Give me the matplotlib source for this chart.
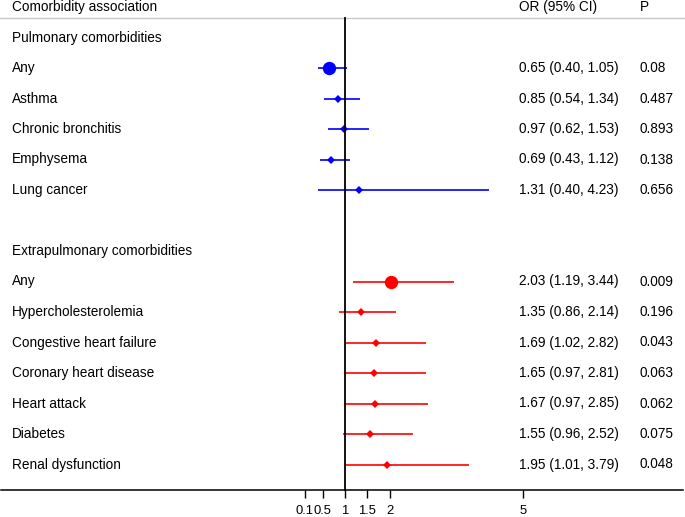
import matplotlib
matplotlib.use("Agg")
import matplotlib.pyplot as plt
import matplotlib.transforms as mtransforms

plt.rcParams['font.family'] = ['Liberation Sans', 'DejaVu Sans']

# data
pulm_labels = ["Any", "Asthma", "Chronic bronchitis", "Emphysema", "Lung cancer"]
pulm_or = [0.65, 0.85, 0.97, 0.69, 1.31]
pulm_lo = [0.40, 0.54, 0.62, 0.43, 0.40]
pulm_hi = [1.05, 1.34, 1.53, 1.12, 4.23]
pulm_p = ["0.08", "0.487", "0.893", "0.138", "0.656"]

extra_labels = ["Any", "Hypercholesterolemia", "Congestive heart failure",
                "Coronary heart disease", "Heart attack", "Diabetes",
                "Renal dysfunction"]
extra_or = [2.03, 1.35, 1.69, 1.65, 1.67, 1.55, 1.95]
extra_lo = [1.19, 0.86, 1.02, 0.97, 0.97, 0.96, 1.01]
extra_hi = [3.44, 2.14, 2.82, 2.81, 2.85, 2.52, 3.79]
extra_p = ["0.009", "0.196", "0.043", "0.063", "0.062", "0.075", "0.048"]

tick_vals = [0.1, 0.5, 1, 1.5, 2, 5]
tick_labels = ["0.1", "0.5", "1", "1.5", "2", "5"]

# layout: rows are 30.5 px apart, x is linear with 1 at px 345
W, H = 685, 517
px_unit = 44.6
row_h = 30.5
fs = 9.8

fig = plt.figure(figsize=(W / 100, H / 100), dpi=100)
ax = fig.add_axes([0, 0, 1, 1])
ax.set_xlim(1 - 345 / px_unit, 1 + (W - 345) / px_unit)
ax.set_ylim((H - 7) / row_h, -7 / row_h)
ax.axis("off")

trans = mtransforms.blended_transform_factory(ax.transAxes, ax.transData)
col_label, col_or, col_p = 12 / W, 519 / W, 640 / W

# header
ax.text(col_label, 0, "Comorbidity association", transform=trans, fontsize=fs, va="center")
ax.text(col_or, 0, "OR (95% CI)", transform=trans, fontsize=fs, va="center")
ax.text(col_p, 0, "P", transform=trans, fontsize=fs, va="center")
top_y = (18 - 7) / row_h
ax.axhline(top_y, color="#c8c8c8", lw=1.0)


def draw_group(start, title, labels, ors, los, his, ps, color):
    ax.text(col_label, start, title, transform=trans, fontsize=fs, va="center")
    for i in range(len(labels)):
        y = start + 1 + i
        ax.text(col_label, y, labels[i], transform=trans, fontsize=fs, va="center")
        ax.text(col_or, y, "{:.2f} ({:.2f}, {:.2f})".format(ors[i], los[i], his[i]),
                transform=trans, fontsize=fs, va="center")
        ax.text(col_p, y, ps[i], transform=trans, fontsize=fs, va="center")
        ax.plot([los[i], his[i]], [y, y], color=color, lw=1.2, solid_capstyle="butt")
        if i == 0:
            ax.plot(ors[i], y, "o", color=color, ms=9.6, mew=0)
        else:
            ax.plot(ors[i], y, "D", color=color, ms=4.4, mew=0)


draw_group(1, "Pulmonary comorbidities", pulm_labels, pulm_or, pulm_lo, pulm_hi, pulm_p, "#0000ff")
draw_group(8, "Extrapulmonary comorbidities", extra_labels, extra_or, extra_lo, extra_hi, extra_p, "#ff0000")

# bottom axis
axis_y = (490 - 7) / row_h
ax.plot([1 + (1 - 345) / px_unit, 1 + (683 - 345) / px_unit], [axis_y, axis_y], color="black", lw=1.1)
ax.plot([1, 1], [top_y, axis_y], color="black", lw=1.3)
ax.vlines(tick_vals, axis_y, axis_y + 8 / row_h, color="black", lw=1.0)
for v, s in zip(tick_vals, tick_labels):
    ax.text(v, axis_y + 21 / row_h, s, fontsize=fs - 0.4, ha="center", va="center")

plt.savefig("out.png", dpi=100)
